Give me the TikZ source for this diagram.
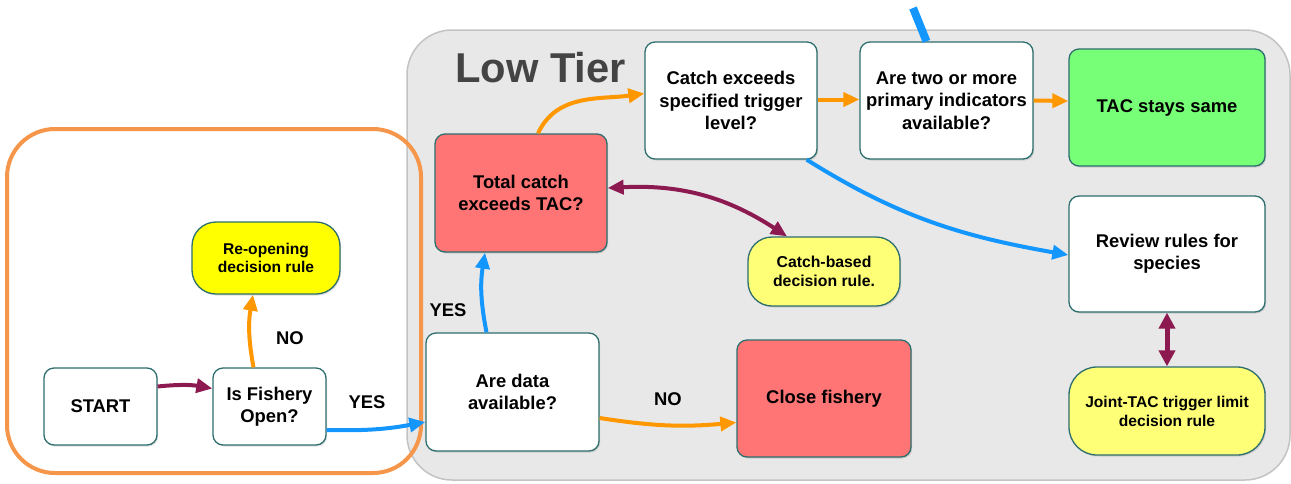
\documentclass[tikz,border=0pt]{standalone}
\usepackage{fontspec}
\setmainfont{Liberation Sans}
\usetikzlibrary{arrows.meta,calc,shadows}
\definecolor{edgec}{RGB}{45,110,110}
\definecolor{panelfill}{RGB}{232,232,232}
\definecolor{panelline}{RGB}{195,195,195}
\definecolor{redfill}{RGB}{255,117,117}
\definecolor{greenfill}{RGB}{119,255,119}
\definecolor{yellowbright}{RGB}{255,255,0}
\definecolor{yellowpale}{RGB}{255,255,119}
\definecolor{arrorange}{RGB}{255,152,0}
\definecolor{arrblue}{RGB}{20,150,255}
\definecolor{arrmaroon}{RGB}{140,25,80}
\definecolor{frameorange}{RGB}{245,150,75}
\definecolor{tiergray}{RGB}{68,68,68}
\newcommand\boxfont{\fontsize{18.4}{22.4}\selectfont\bfseries}
\newcommand\smallboxfont{\fontsize{15.6}{19}\selectfont\bfseries}
\tikzset{
  box/.style={draw=edgec, line width=1.3pt, rounded corners=10pt, align=center,
    font=\boxfont, inner sep=2pt, fill=white,
    drop shadow={shadow xshift=1.2pt, shadow yshift=-1.5pt, opacity=0.25}},
  pill/.style={box, font=\smallboxfont, rounded corners=24pt},
  lbl/.style={font=\boxfont, inner sep=0pt},
  arr/.style={line width=4pt, -{Triangle[length=16pt,width=14pt]}},
  dbl/.style={line width=4pt, {Triangle[length=16pt,width=14pt]}-{Triangle[length=16pt,width=14pt]}},
}
\begin{document}
\begin{tikzpicture}[x=1pt,y=-1pt]
\useasboundingbox (0,0) rectangle (1291,483);
\begin{scope}
\clip (0,0) rectangle (1291,483);
\draw[fill=panelfill, draw=panelline, line width=1.5pt, rounded corners=45pt] (407,30) rectangle (1290,480);
\end{scope}
\draw[frameorange, line width=4pt, rounded corners=48pt] (7,129) rectangle (421,473);

\node[anchor=base west, font=\fontsize{41.7}{45}\selectfont\bfseries, text=tiergray, inner sep=0pt] (tier) at (455,82) {Low Tier};

% nodes
\node[box, minimum width=113pt, minimum height=77pt] (start) at (100.5,406.5) {START};
\node[box, minimum width=113pt, minimum height=77pt] (fish) at (269.5,406.5) {Is Fishery\\Open?};
\node[pill, fill=yellowbright, minimum width=148pt, minimum height=72pt, font=\fontsize{15.6}{18.5}\selectfont\bfseries] (reopen) at (266,258) {Re-opening\\decision rule};
\node[box, minimum width=173pt, minimum height=118pt] (data) at (512.5,392) {Are data\\available?};
\node[box, fill=redfill, minimum width=174pt, minimum height=117pt] (close) at (824,398.5) {Close fishery};
\node[pill, fill=yellowpale, minimum width=152pt, minimum height=69pt, font=\fontsize{15.8}{19.3}\selectfont\bfseries] (catchrule) at (824,271.5) {Catch-based\\decision rule.};
\node[box, fill=redfill, minimum width=172pt, minimum height=118pt] (total) at (521,193) {Total catch\\exceeds TAC?};
\node[box, minimum width=172pt, minimum height=117pt] (trigger) at (731,100.5) {Catch exceeds\\specified trigger\\level?};
\node[box, minimum width=173pt, minimum height=117pt] (two) at (946.5,100.5) {Are two or more\\primary indicators\\available?};
\node[box, fill=greenfill, minimum width=196pt, minimum height=117pt] (same) at (1167,107.5) {TAC stays same};
\node[box, minimum width=196pt, minimum height=116pt] (review) at (1167,254) {Review rules for\\species};
\node[pill, fill=yellowpale, minimum width=196pt, minimum height=88pt, rounded corners=28pt] (joint) at (1167,411) {Joint-TAC trigger limit\\decision rule};

% labels
\node[lbl] (no1) at (290,338) {NO};
\node[lbl] (yes1) at (367,402) {YES};
\node[lbl] (yes2) at (448,310) {YES};
\node[lbl] (no2) at (668,399) {NO};

% connectors
\coordinate (topin) at (913,8);
\draw[arrblue, line width=8pt] (topin) -- ($(two.north)+(-20,0)$);

\draw[arr, arrmaroon] ($(start.east)+(0,-20)$) to[bend left=8] ($(fish.west)+(0,-18)$);
\draw[arr, arrorange] ($(fish.north)+(-16,0)$) to[bend left=10] ($(reopen.south)+(-13,0)$);
\draw[arr, arrblue] ($(fish.east)+(0,23.5)$) to[bend right=6] ($(data.west)+(0,30)$);
\draw[arr, arrblue] ($(data.north)+(-26,0)$) to[bend left=10] ($(total.south)+(-36,0)$);
\draw[arr, arrorange] ($(data.east)+(0,26)$) to[bend right=7] ($(close.west)+(0,24)$);
\draw[arr, arrorange] ($(total.north)+(17,0)$) to[out=65,in=188] ($(trigger.west)+(0,-7)$);
\draw[dbl, arrmaroon] ($(total.east)+(0,-5)$) to[bend left=18] ($(catchrule.north)+(-37,0)$);
\draw[arr, arrorange] ($(trigger.east)+(0,-1)$) -- ($(two.west)+(0,-1)$);
\draw[arr, arrorange] ($(two.east)+(0,0)$) -- ($(same.west)+(0,-6.5)$);
\draw[arr, arrblue] ($(trigger.south east)+(-11,0)$) to[out=-32,in=170] ($(review.west)+(0,1)$);
\draw[line width=5pt, arrmaroon, {Triangle[length=16pt,width=16pt]}-{Triangle[length=16pt,width=16pt]}] (review.south) -- (joint.north);
\end{tikzpicture}
\end{document}
